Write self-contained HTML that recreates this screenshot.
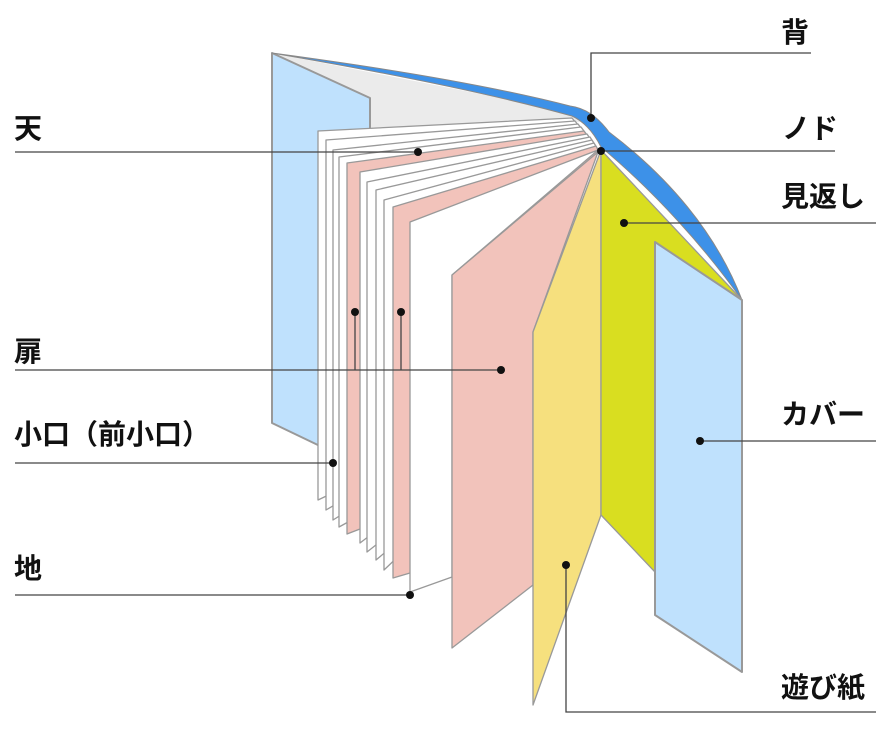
<!DOCTYPE html>
<html><head><meta charset="utf-8"><style>
html,body{margin:0;padding:0;background:#fff;}
svg{display:block}
text{font-family:"Liberation Sans","Noto Sans CJK JP",sans-serif;font-size:28px;font-weight:bold;fill:#111}
</style></head><body>
<svg width="884" height="740" viewBox="0 0 884 740" xmlns="http://www.w3.org/2000/svg">
<g stroke="#999" stroke-width="2" stroke-linejoin="round">
<!-- gray endpaper -->
<polygon points="272,53 572,112 582,122 318,131 370,128 370,98" fill="#ebebeb" stroke="none"/>
<!-- left cover -->
<polygon points="272,53 370,98 370,470 272,423" fill="#bfe1fd"/>
<!-- blue spine strip -->
<path d="M272,53 C400,70 500,88 570,106 C585,108 597,116 609,132 C667,176 716,232 742,300 C705,248 655,192 601,147 C594,133 585,122 572,116 C500,96 400,75 272,53 Z" fill="#3d91e8" stroke="#888" stroke-width="1"/>
<!-- pages -->
<g stroke-width="1.3">
<polygon points="318,131 572,118 598,150 360,480 318,500" fill="#fff"/>
<polygon points="326,140 575,121 598,150 360,490 326,510" fill="#fff"/>
<polygon points="333,150 578,124 598,150 365,500 333,520" fill="#fff"/>
<polygon points="339,157 581,127 598,150 370,510 339,527" fill="#fff"/>
<polygon points="347,163 584,131 598,150 360,529 347,534" fill="#f2c3bb"/>
<polygon points="360,172 587,134 598,150 390,520 360,543" fill="#fff"/>
<polygon points="367,182 590,137 598,150 395,530 367,552" fill="#fff"/>
<polygon points="376,190 592,140 598,150 400,540 376,560" fill="#fff"/>
<polygon points="384,200 594,143 598,150 405,550 384,570" fill="#fff"/>
<polygon points="393,207 596,146 598,150 410,573 393,578" fill="#f2c3bb"/>
<polygon points="410,222 598,150 452,275 452,577 410,592" fill="#fff"/>
</g>
<polygon points="598,152 452,275 452,648 533,585 533,332" fill="#f2c3bb" stroke-width="1.3"/>
<polygon points="601,150 601,515 533,705 533,332" fill="#f6e07e" stroke-width="1.3"/>
<polygon points="601,150 742,300 655,242 655,572 601,515" fill="#d9de20" stroke-width="1.3"/>
<polygon points="655,242 742,300 742,672 655,615" fill="#bfe1fd"/>
</g>
<g stroke="#444" stroke-width="1.3" fill="none">
<polyline points="591,118 591,53 811,53"/>
<line x1="601" y1="151" x2="835" y2="151"/>
<line x1="624" y1="223" x2="876" y2="223"/>
<line x1="700" y1="441" x2="876" y2="441"/>
<polyline points="566,565 566,712 876,712"/>
<line x1="15" y1="152" x2="418" y2="152"/>
<polyline points="15,370 501,370"/>
<line x1="355" y1="312" x2="355" y2="370"/>
<line x1="401" y1="312" x2="401" y2="370"/>
<line x1="15" y1="463" x2="333" y2="463"/>
<line x1="15" y1="595" x2="410" y2="595"/>
</g>
<g fill="#111">
<circle cx="591" cy="118" r="4"/><circle cx="601" cy="151" r="4"/>
<circle cx="624" cy="223" r="4"/><circle cx="700" cy="441" r="4"/>
<circle cx="566" cy="565" r="4"/><circle cx="418" cy="152" r="4"/>
<circle cx="501" cy="370" r="4"/><circle cx="355" cy="312" r="4"/>
<circle cx="401" cy="312" r="4"/><circle cx="333" cy="463" r="4"/>
<circle cx="410" cy="595" r="4"/>
</g>
<text x="781" y="42">背</text>
<text x="782" y="138">ノド</text>
<text x="781" y="206">見返し</text>
<text x="781" y="424">カバー</text>
<text x="781" y="697">遊び紙</text>
<text x="14" y="138">天</text>
<text x="14" y="361">扉</text>
<text x="14" y="444">小口（前小口）</text>
<text x="14" y="578">地</text>
</svg>
</body></html>
